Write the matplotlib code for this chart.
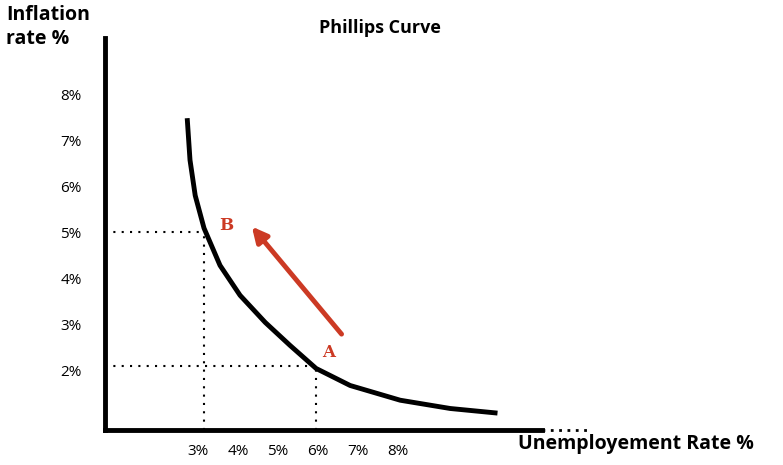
import matplotlib
matplotlib.use("Agg")
import matplotlib.pyplot as plt

plt.rcParams['font.family'] = ['Open Sans', 'DejaVu Sans']

curve_x = [2.73, 2.80, 2.93, 3.15, 3.55, 4.05, 4.68, 5.30, 5.95, 6.80, 8.05, 9.30, 10.48]
curve_y = [7.48, 6.57, 5.80, 5.09, 4.28, 3.63, 3.04, 2.54, 2.04, 1.67, 1.35, 1.17, 1.07]
x_ticks = [3, 4, 5, 6, 7, 8]
y_ticks = [2, 3, 4, 5, 6, 7, 8]
point_a = (5.95, 2.09)
point_b = (3.15, 5.0)
arrow_start = (6.63, 2.74)
arrow_end = (4.30, 5.17)

fig = plt.figure(figsize=(7.83, 4.65), dpi=100)
ax = fig.add_axes([0.134, 0.075, 0.62, 0.843])
x0, x1, y0, y1 = 0.675, 12.8, 0.70, 9.22
ax.set_xlim(x0, x1); ax.set_ylim(y0, y1)
for s in ['top', 'right']:
    ax.spines[s].set_visible(False)
ax.spines['left'].set_linewidth(3.5)
ax.spines['bottom'].set_linewidth(3.5)
ax.spines['bottom'].set_bounds(x0, 11.6)
ax.plot([11.6, x1], [y0, y0], ls=(0, (1, 2)), color='black', lw=2, clip_on=False)

ax.plot(curve_x, curve_y, color='black', lw=3.5, solid_capstyle='butt')
dot = dict(color='black', lw=1.5, ls=(0, (1, 3)))
for px, py in [point_a, point_b]:
    ax.plot([x0, px], [py, py], **dot)
    ax.plot([px, px], [y0, py], **dot)

ax.annotate('', xy=arrow_end, xytext=arrow_start,
            arrowprops=dict(arrowstyle='-|>,head_length=0.9,head_width=0.45', color='#cc3a24', lw=3.5))
ax.text(6.25, 2.39, 'A', color='#cc3a24', fontsize=12, fontweight='bold', family='DejaVu Serif', ha='center', va='center')
ax.text(3.7, 5.15, 'B', color='#cc3a24', fontsize=12, fontweight='bold', family='DejaVu Serif', ha='center', va='center')

ax.set_xticks(x_ticks)
ax.set_xticklabels([f'{v}%' for v in x_ticks])
ax.set_yticks(y_ticks)
ax.set_yticklabels([f'{v}%' for v in y_ticks])
ax.tick_params(length=0, labelsize=11, pad=10)
ax.tick_params(axis='y', pad=32)
for lab in ax.get_yticklabels():
    lab.set_horizontalalignment('left')

fig.text(0.485, 0.94, 'Phillips Curve', fontsize=13, fontweight='bold', ha='center', va='center')
fig.text(0.008, 0.99, 'Inflation\nrate %', fontsize=14, fontweight='bold', ha='left', va='top', linespacing=1.3)
fig.text(0.662, 0.045, 'Unemployement Rate %', fontsize=14, fontweight='bold', ha='left', va='center')

fig.savefig('out.png', dpi=100)
